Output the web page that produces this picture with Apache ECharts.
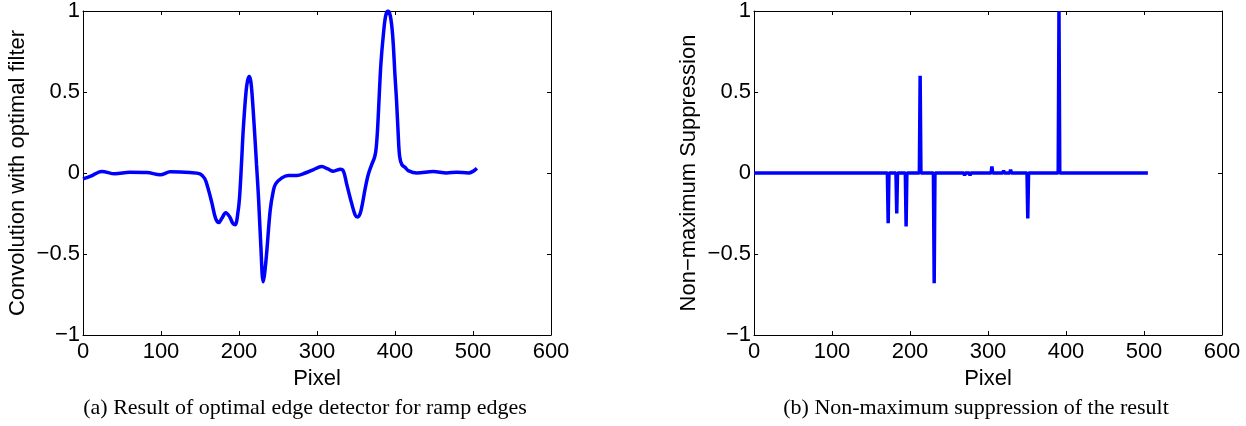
<!DOCTYPE html>
<html>
<head>
<meta charset="utf-8">
<script src="https://cdn.jsdelivr.net/npm/echarts@6/dist/echarts.min.js"></script>
<style>
html,body{margin:0;padding:0;background:#fff;}
#c{width:1246px;height:426px;}
</style>
</head>
<body>
<div id="c"></div>
<script>
// ---- Data ----
// (a) convolution with optimal filter
const convX = [0, 10, 24, 41, 60, 82, 99, 112, 137, 150, 156, 160, 165, 170, 174, 178, 183, 188, 192, 195, 199, 201, 203.4, 205.6, 209, 211, 213, 215, 217, 220, 222.5, 225, 228, 231, 234.6, 240, 244, 247, 255, 263, 274, 285, 295, 306, 314, 321, 330, 334, 338, 344, 349, 352, 356, 362, 366, 370, 374, 376, 378, 380, 382, 385, 388, 391, 394, 397, 400, 402, 404, 406, 409, 413, 417, 428, 449, 466, 479, 494, 500, 505];
const convY = [-0.036, -0.02, 0.01, -0.005, 0.005, 0.003, -0.011, 0.007, 0.003, -0.005, -0.034, -0.09, -0.18, -0.28, -0.306, -0.28, -0.245, -0.27, -0.31, -0.32, -0.23, -0.13, 0.077, 0.28, 0.5, 0.57, 0.596, 0.57, 0.47, 0.25, 0.05, -0.15, -0.45, -0.672, -0.54, -0.23, -0.11, -0.067, -0.03, -0.015, -0.015, 0.0, 0.02, 0.04, 0.025, 0.011, 0.023, 0.01, -0.067, -0.18, -0.26, -0.272, -0.24, -0.09, -0.005, 0.05, 0.1, 0.16, 0.3, 0.5, 0.68, 0.85, 0.97, 1.0, 0.97, 0.85, 0.6, 0.446, 0.25, 0.1, 0.05, 0.035, 0.015, 0.0, 0.009, 0.0, 0.005, 0.0, 0.01, 0.03];

// (b) non-maximum suppression: surviving extrema (pixel, value); zero elsewhere
const nmsX = [26, 41, 60, 99, 112, 172, 183, 195, 213, 231, 270, 277, 305, 320, 329, 351, 391, 447, 478];
const nmsY = [0.01, -0.006, 0.005, -0.012, 0.005, -0.31, -0.25, -0.33, 0.60, -0.68, -0.015, -0.015, 0.04, 0.015, 0.02, -0.28, 1.0, 0.006, 0.005];
const nmsEnd = 505;

// axis ticks
const xTicks = [0, 100, 200, 300, 400, 500, 600];
const xTickLabels = ['0', '100', '200', '300', '400', '500', '600'];
const yTicks = [-1, -0.5, 0, 0.5, 1];
const yTickLabels = ['\u22121', '\u22120.5', '0', '0.5', '1'];

const xName = 'Pixel';
const yNameA = 'Convolution with optimal filter';
const yNameB = 'Non\u2212maximum Suppression';
const captionA = '(a) Result of optimal edge detector for ramp edges';
const captionB = '(b) Non-maximum suppression of the result';

// ---- build ----
const convData = convX.map((x, i) => [x, convY[i]]);
const nmsData = [[0, 0]];
nmsX.forEach((x, i) => {
  nmsData.push([x - 1, 0]);
  nmsData.push([x, nmsY[i]]);
  nmsData.push([x + 1, 0]);
});
nmsData.push([nmsEnd, 0]);

const SANS = "'Liberation Sans', Arial, Helvetica, sans-serif";
const FS = 22;
const xFmt = v => { const i = xTicks.indexOf(v); return i >= 0 ? xTickLabels[i] : ''; };
const yFmt = v => { const i = yTicks.findIndex(t => Math.abs(t - v) < 1e-9); return i >= 0 ? yTickLabels[i] : ''; };

const lineStyle = { color: '#000', width: 1 };
function xAxes(gi) {
  return [
    { gridIndex: gi, type: 'value', min: 0, max: 600, interval: 100, position: 'bottom',
      axisLine: { show: true, onZero: false, lineStyle }, axisTick: { show: true, inside: true, length: 4, lineStyle },
      axisLabel: { formatter: xFmt, color: '#000', fontFamily: SANS, fontSize: FS, margin: 6 },
      splitLine: { show: false },
      name: xName, nameLocation: 'middle', nameGap: 24,
      nameTextStyle: { color: '#000', fontFamily: SANS, fontSize: FS } },
    { gridIndex: gi, type: 'value', min: 0, max: 600, interval: 100, position: 'top',
      axisLine: { show: true, onZero: false, lineStyle }, axisTick: { show: true, inside: true, length: 4, lineStyle },
      axisLabel: { show: false }, splitLine: { show: false } }
  ];
}
function yAxes(gi, name) {
  return [
    { gridIndex: gi, type: 'value', min: -1, max: 1, interval: 0.5, position: 'left',
      axisLine: { show: true, onZero: false, lineStyle }, axisTick: { show: true, inside: true, length: 4, lineStyle },
      axisLabel: { formatter: yFmt, color: '#000', fontFamily: SANS, fontSize: FS, margin: 3 },
      splitLine: { show: false },
      name: name, nameLocation: 'middle', nameGap: 54,
      nameTextStyle: { color: '#000', fontFamily: SANS, fontSize: FS } },
    { gridIndex: gi, type: 'value', min: -1, max: 1, interval: 0.5, position: 'right',
      axisLine: { show: true, onZero: false, lineStyle }, axisTick: { show: true, inside: true, length: 4, lineStyle },
      axisLabel: { show: false }, splitLine: { show: false } }
  ];
}

const SERIF = "22px 'Liberation Serif', 'Times New Roman', serif";
const chart = echarts.init(document.getElementById('c'), null, { renderer: 'canvas' });
chart.setOption({
  animation: false,
  backgroundColor: '#fff',
  grid: [
    { left: 83, top: 10, width: 468, height: 325 },
    { left: 754, top: 10, width: 468, height: 325 }
  ],
  xAxis: [...xAxes(0), ...xAxes(1)],
  yAxis: [...yAxes(0, yNameA), ...yAxes(1, yNameB)],
  series: [
    { type: 'line', xAxisIndex: 0, yAxisIndex: 0, data: convData, showSymbol: false, smooth: 0.35,
      lineStyle: { color: '#0000ff', width: 3.5 }, clip: true },
    { type: 'line', xAxisIndex: 2, yAxisIndex: 2, data: nmsData, showSymbol: false,
      lineStyle: { color: '#0000ff', width: 3.5 }, clip: true }
  ],
  graphic: [
    { type: 'text', x: 305, y: 408, silent: true,
      style: { text: captionA, fill: '#000', font: SERIF, textAlign: 'center', textVerticalAlign: 'middle' } },
    { type: 'text', x: 976, y: 408, silent: true,
      style: { text: captionB, fill: '#000', font: SERIF, textAlign: 'center', textVerticalAlign: 'middle' } }
  ]
});
</script>
</body>
</html>
